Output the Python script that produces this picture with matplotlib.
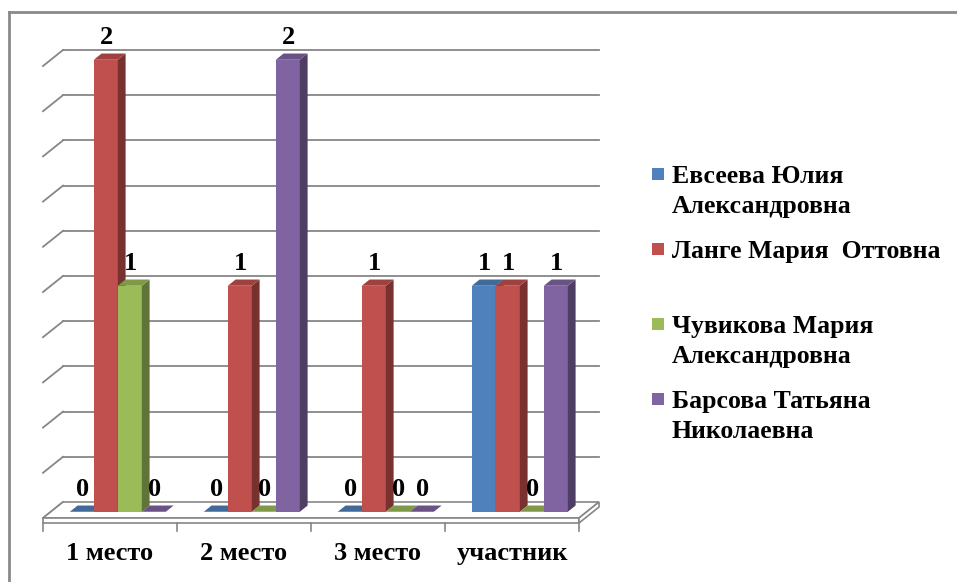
# Results of the contest by participant, drawn as an Excel-style 3D column chart
import numpy as np
import matplotlib
matplotlib.use('Agg')
import matplotlib.pyplot as plt
from matplotlib.patches import Polygon, Rectangle
from matplotlib.lines import Line2D
import matplotlib.colors as mcolors

# --- data ---
categories = ['1 место', '2 место', '3 место', 'участник']
series_names = ['Евсеева Юлия Александровна', 'Ланге Мария Оттовна',
                'Чувикова Мария Александровна', 'Барсова Татьяна Николаевна']
legend_lines = [['Евсеева Юлия', 'Александровна'],
                ['Ланге Мария  Оттовна'],
                ['Чувикова Мария', 'Александровна'],
                ['Барсова Татьяна', 'Николаевна']]
evseeva = [0, 0, 0, 1]
lange = [2, 1, 1, 1]
chuvikova = [1, 0, 0, 0]
barsova = [0, 2, 0, 1]
series = [evseeva, lange, chuvikova, barsova]
colors = ['#4F81BD', '#C0504D', '#9BBB59', '#8064A2']
grid_values = np.linspace(0, 2, 11)

# --- layout (pixels of a 957x582 image) ---
W, H = 957, 582
X0, CW = 43, 134        # pixel of x=-0.5, pixels per category
Y0, YS = 518, 226       # pixel of y=0 at the front, pixels per unit
DX, DY = 20 / CW, 16 / YS   # full depth of the floor
D0, D1 = 0.39, 0.78         # bar depth range
BW = 24 / CW
GAP = 19 / CW
TH = 5 / YS                 # floor thickness
GRID = '#868686'
FONT = 'Liberation Serif'

fig = plt.figure(figsize=(W / 100, H / 100), dpi=100)
ax = fig.add_axes([0, 0, 1, 1])
ax.set_xlim(-0.5 - X0 / CW, -0.5 + (W - X0) / CW)
ax.set_ylim((Y0 - H) / YS, Y0 / YS)
ax.axis('off')

# outer border (only top and left show in the picture)
fig.add_artist(Line2D([9 / W, 1], [1 - 12 / H, 1 - 12 / H], color='#8a8a8a', lw=2))
fig.add_artist(Line2D([9 / W, 9 / W], [0, 1 - 12 / H], color='#8a8a8a', lw=2))

n = len(categories)
left_x, right_x = -0.5, n - 0.5

# back wall gridlines and left wall diagonals
for g in grid_values:
    if g > 0:
        ax.plot([left_x + DX, right_x + DX], [g + DY, g + DY], color=GRID, lw=1.3, zorder=1)
    ax.plot([left_x, left_x + DX], [g, g + DY], color=GRID, lw=1.3, zorder=1)

# floor slab
floor_top = Polygon([(left_x, 0), (right_x, 0), (right_x + DX, DY), (left_x + DX, DY)],
                    closed=True, facecolor='white', edgecolor=GRID, lw=1.2, zorder=2)
floor_front = Polygon([(left_x, 0), (right_x, 0), (right_x, -TH), (left_x, -TH)],
                      closed=True, facecolor='white', edgecolor=GRID, lw=1.2, zorder=2)
floor_side = Polygon([(right_x, 0), (right_x + DX, DY), (right_x + DX, DY - TH), (right_x, -TH)],
                     closed=True, facecolor='white', edgecolor=GRID, lw=1.2, zorder=2)
for p in (floor_top, floor_front, floor_side):
    ax.add_patch(p)

# category ticks and labels
for k in range(n + 1):
    ax.plot([left_x + k, left_x + k], [-TH, -TH - 8 / YS], color=GRID, lw=1.2, zorder=2)
for i, cat in enumerate(categories):
    ax.text(i, (Y0 - 560) / YS, cat, ha='center', va='baseline', fontsize=19,
            fontweight='bold', family=FONT, color='black')

# bars
dd = D1 - D0
z = 3
for i in range(n):
    for j, vals in enumerate(series):
        v = vals[i]
        c = np.array(mcolors.to_rgb(colors[j]))
        side_c = c * 0.62
        top_c = c * 0.82
        left = i - 0.5 + GAP + j * BW + D0 * DX
        base = D0 * DY
        if v > 0:
            ax.bar(left, v, width=BW, bottom=base, align='edge', color=colors[j],
                   linewidth=0, zorder=z)
            ax.add_patch(Polygon([(left + BW, base), (left + BW + dd * DX, base + dd * DY),
                                  (left + BW + dd * DX, base + v + dd * DY), (left + BW, base + v)],
                                 closed=True, facecolor=side_c, lw=0, zorder=z))
        ax.add_patch(Polygon([(left, base + v), (left + dd * DX, base + v + dd * DY),
                              (left + BW + dd * DX, base + v + dd * DY), (left + BW, base + v)],
                             closed=True, facecolor=top_c, lw=0, zorder=z))
        ax.annotate(str(v), (left + BW / 2, base + v), xytext=(1, 11),
                    textcoords='offset pixels', ha='center', va='bottom', fontsize=19,
                    fontweight='bold', family=FONT, color='black', zorder=20)
        z += 0.1

# legend
baselines = [183, 258, 333, 408]
for j, lines in enumerate(legend_lines):
    b = baselines[j]
    fig.add_artist(Rectangle((652 / W, 1 - (b - 3) / H), 12 / W, 12 / H,
                             facecolor=colors[j], edgecolor='none'))
    for k, line in enumerate(lines):
        fig.text(672 / W, 1 - (b + 30 * k) / H, line, ha='left', va='baseline',
                 fontsize=18.5, fontweight='bold', family=FONT, color='black')

fig.savefig('out.png', dpi=100)
